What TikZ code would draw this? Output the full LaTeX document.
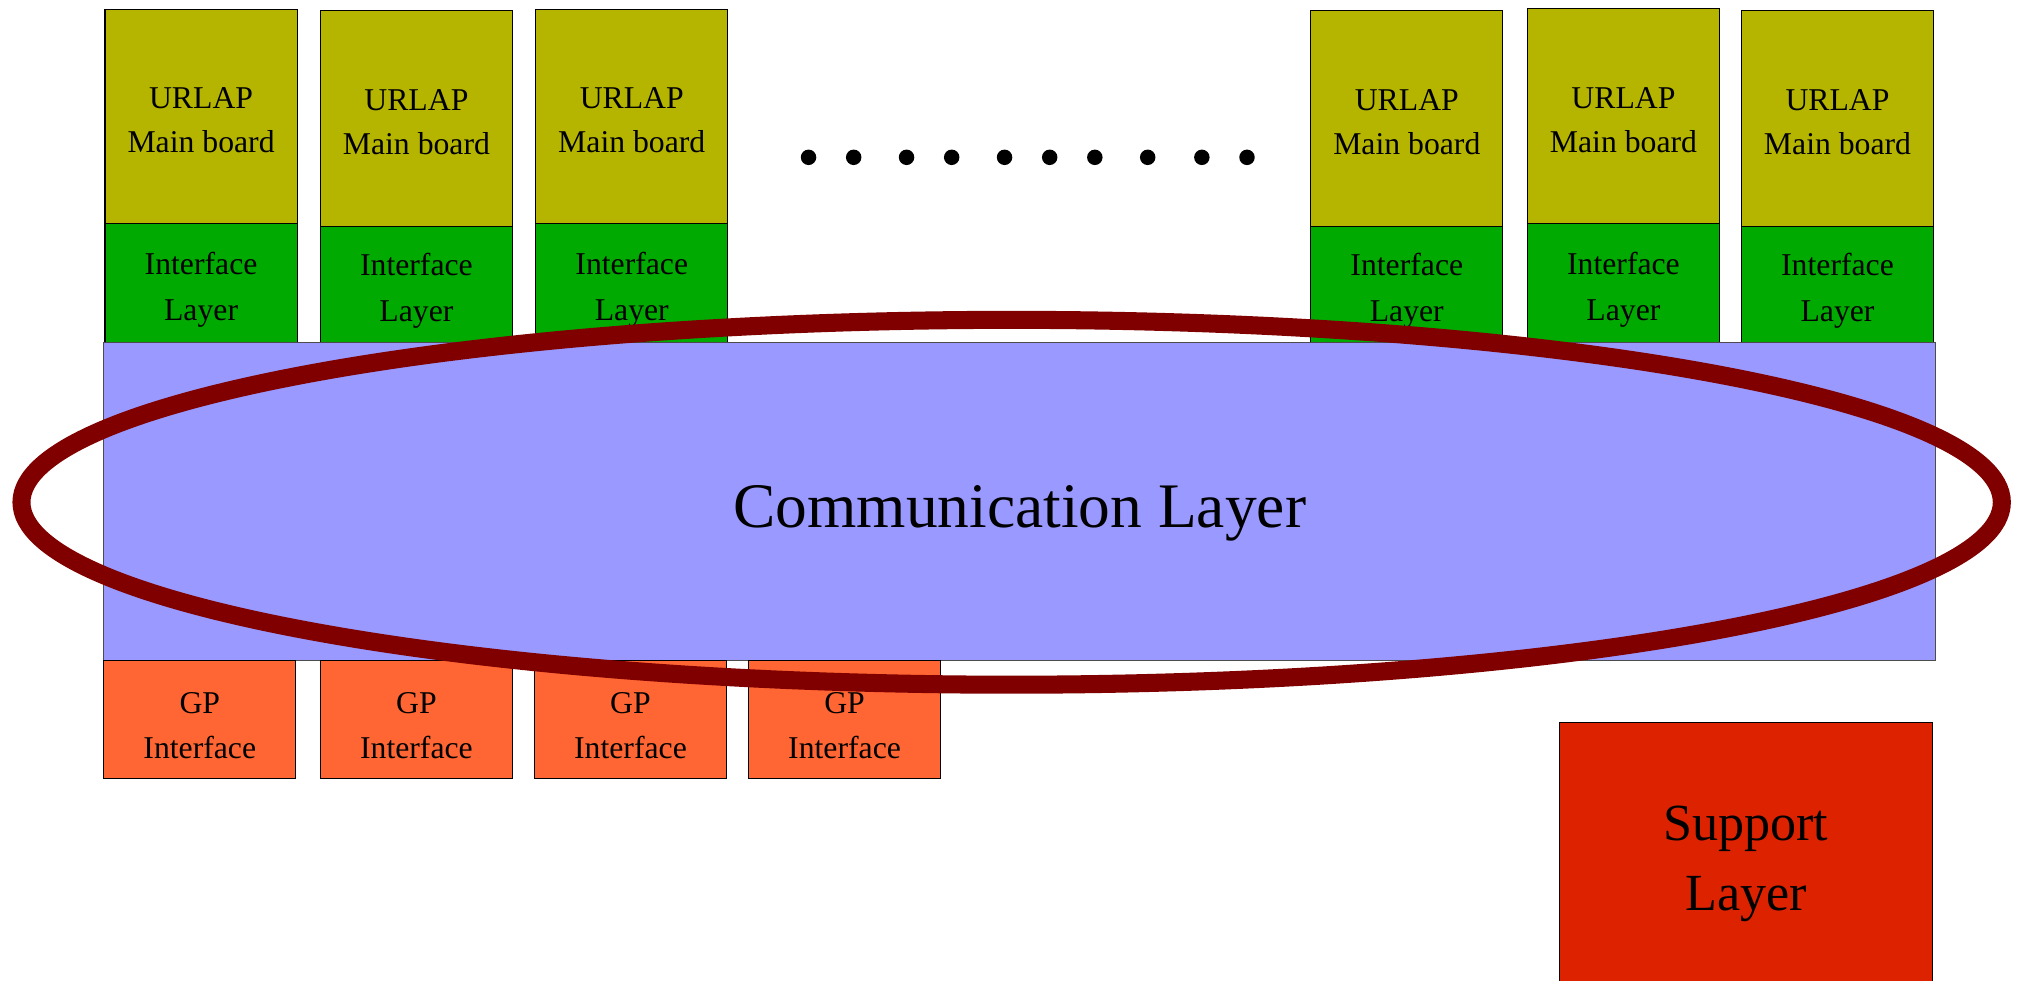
\documentclass[tikz,border=0pt]{standalone}
\usepackage{fontspec}
\setmainfont{Liberation Serif}
\begin{document}
\begin{tikzpicture}[x=0.02cm, y=-0.02cm,
  box/.style={rectangle, draw=black, line width=0.5pt, inner sep=0pt,
    anchor=north west, minimum width=2.98cm},
  txt/.style={align=center, inner sep=0pt},
  small/.style={txt, font=\fontsize{14}{#1}\selectfont},
  boardbox/.style={box, fill=board},
  ifacebox/.style={box, fill=iface},
  gpbox/.style={box, fill=gp, minimum height=1.82cm},
  ring/.style={draw=ringred, line width=0.28cm}]
\definecolor{board}{RGB}{181,181,0}
\definecolor{iface}{RGB}{0,170,0}
\definecolor{comm}{RGB}{153,153,255}
\definecolor{gp}{RGB}{255,102,51}
\definecolor{support}{RGB}{221,34,0}
\definecolor{ringred}{RGB}{128,0,0}

\clip (0,0) rectangle (1568,760);

% URLAP main boards with their interface layers: index/left/top/split
\foreach \i/\l/\t/\s in {1/81/7/173, 2/248/8/175, 3/415/7/173,
                        4/1016/8/175, 5/1184/6/173, 6/1350/8/175} {
  \node[boardbox, minimum height={(\s-\t)*0.2mm}] (m\i) at (\l,\t) {};
  \node[small=19.3pt] (mt\i) at ([yshift=-0.06cm]m\i.center)
    {URLAP\\Main board};
  \node[ifacebox, minimum height={(265-\s)*0.2mm}] (f\i) at (\l,\s) {};
  \node[small=20.4pt] (ft\i) at ([yshift=-0.1cm]f\i.center)
    {Interface\\Layer};
}

% communication layer
\node[box, draw=black!70, fill=comm, minimum width=28.42cm,
  minimum height=4.94cm] (comm) at (80,265) {};
\node[txt, font=\fontsize{28}{34}\selectfont] (commt)
  at ([yshift=-0.18cm]comm.center) {Communication Layer};

% general purpose interfaces
\foreach \i/\l in {1/80, 2/248, 3/414, 4/580} {
  \node[gpbox] (g\i) at (\l,512) {};
  \node[small=19.8pt] (gt\i) at ([yshift=-0.09cm]g\i.center)
    {GP\\Interface};
}

% support layer
\node[box, fill=support, minimum width=5.78cm, minimum height=4.18cm]
  (sup) at (1209,560) {};
\node[txt, font=\fontsize{23}{31}\selectfont] (supt)
  at ([yshift=-0.1cm]sup.center) {Support\\Layer};

% ellipsis between the board groups
\foreach \x in {627, 662, 703, 738, 779, 814, 849, 890, 932, 967} {
  \fill[black] (\x,122) circle[radius=0.12cm];
}

% ring around the communication layer
\draw[ring] (784.5,389.5) ellipse[x radius=15.36cm, y radius=2.83cm];
\end{tikzpicture}
\end{document}
